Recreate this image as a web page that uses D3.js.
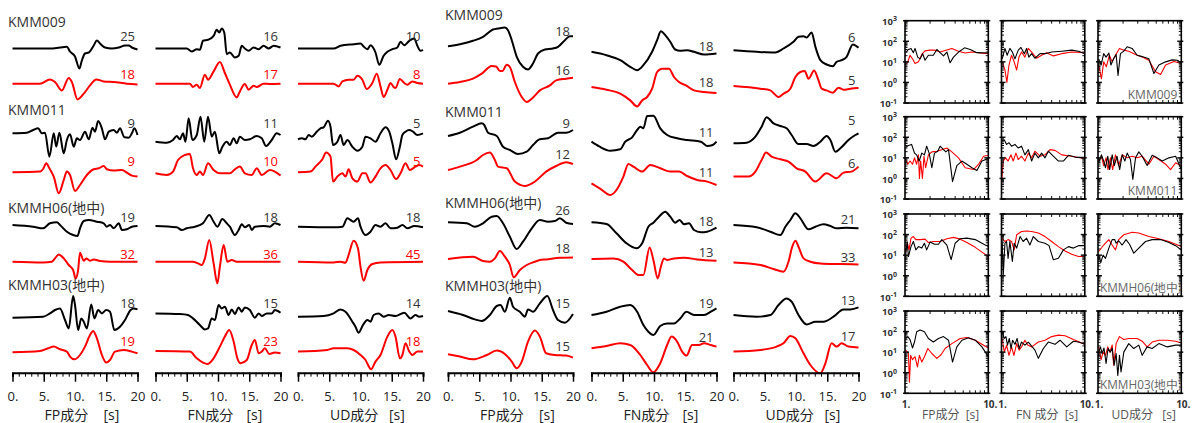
<!DOCTYPE html>
<html>
<head>
<meta charset="utf-8">
<script src="https://cdn.jsdelivr.net/npm/d3@7"></script>
<style>
  body { margin: 0; background: #fff; }
  text { font-family: "Open Sans", "Noto Sans CJK JP", sans-serif; }
</style>
</head>
<body>
<svg id="chart" width="1196" height="423"></svg>
<script>
// ---------- waveform data: [time (s), relative amplitude] ----------
// order in each station array: FP obs, FP syn, FN obs, FN syn, UD obs, UD syn
const velKMM009 = [
  [[0,0],[6,0],[7.6,1],[8.7,1.7],[9.2,-3],[10,-8],[10.7,-20],[11.1,-12],[11.6,-5],[12.2,-4],[13,3],[13.5,8],[14,5],[14.8,1],[15.9,0],[17,1],[18,3],[18.6,3],[19.1,1],[20,-1]],
  [[0,0],[4.4,0],[6,4.3],[6.8,1.7],[7.9,-6.7],[9,5.7],[9.5,1.7],[10.4,-15.7],[11.4,-10],[12.4,-1.7],[13.4,4.3],[14.6,2.3],[16.2,1.7],[18.3,0],[20,-0.7]],
  [[0,0],[5,0],[5.8,-3],[6.6,-0.7],[7.1,-1.3],[7.6,7.7],[8.4,8.7],[9.3,12.7],[9.8,18.7],[10.2,16],[10.6,20],[11,16],[11.4,-5.7],[11.9,-4],[12.7,-9],[13.3,-7.3],[13.8,2.7],[14.3,0],[14.9,-2.3],[15.7,1],[16.5,-0.7],[17.3,2.7],[18.1,0],[18.9,2.7],[20,1]],
  [[0,0],[5.5,0],[6,-3.3],[6.6,-1],[7.1,-4.3],[7.9,9],[8.4,4],[9.3,12.3],[10.3,21.7],[11.1,10.7],[11.9,-1],[13,-13.7],[13.5,-7.7],[14.3,-0.3],[14.9,-6],[15.7,-2],[16.2,-3.3],[17.3,0],[18.3,-0.3],[20,0]],
  [[0,0],[5.7,0],[6.8,2.7],[8.9,4.3],[10,5],[10.5,2],[11.1,-0.7],[11.6,3.3],[12.4,-4],[13,-16.3],[13.7,-7.3],[14.3,-3.3],[15.1,-0.7],[15.9,1],[16.4,6.7],[17,3.3],[17.8,7.7],[18.6,10],[19.1,2.7],[19.6,-2.3],[20,-1.3]],
  [[0,0],[5.7,0],[6.5,-2.7],[7.1,2.3],[8.1,4],[8.9,4],[9.5,8],[10.3,4],[11,-5.3],[11.9,0.7],[12.6,10],[13.2,-2.7],[13.7,-13.3],[14.3,-6],[14.8,0.7],[15.3,-3.3],[15.6,-4.3],[16.3,4.7],[17,0.7],[17.5,-1],[18.3,2.3],[19.1,0.7],[20,0]]
];
const velKMM011 = [
  [[0,1.7],[2.3,2.3],[3.3,5],[4.1,6.7],[4.7,1.7],[5.2,2.3],[5.9,-21.7],[6.6,1.7],[7,-11.7],[7.5,2.3],[8.2,-18.3],[8.7,-5],[9.2,0.7],[9.8,-11.7],[10.3,-3.3],[10.8,-5],[11.6,3.3],[12.2,-4.3],[12.8,7.3],[13.2,3.3],[13.7,14],[14.3,6.7],[14.8,-4.3],[15.4,3.3],[16.2,5],[16.7,2.3],[17.2,6.7],[17.9,-2.3],[18.6,-2.7],[19.1,1.7],[19.5,6.7],[20,0]],
  [[0,0],[4.4,0.7],[4.9,3.3],[5.4,9],[5.9,4],[6.6,-4.3],[7.4,-21],[8.2,-7.7],[8.7,0.7],[9.2,-2.7],[10,-18.7],[10.8,-12.7],[11.9,-2.7],[13,3],[13.8,4],[14.6,6.3],[15.1,3],[16.2,1.7],[17.5,2.3],[18.3,-0.3],[19.1,-3.3],[20,-4.3]],
  [[0,-6.7],[1.8,-7.7],[2.8,-5],[3.4,-1],[3.9,-4.3],[4.4,1.7],[4.8,-6.7],[5.3,16.7],[5.9,-5],[6.6,0],[7.2,18.3],[7.8,-6.7],[8.4,18.3],[9,-1.7],[9.5,3.3],[10.2,-18.3],[10.7,-11.7],[11.4,-6.7],[11.9,-10],[12.5,-3.3],[13,-8.3],[13.5,-1.7],[14.3,-5],[15.1,-4.3],[16.2,-1],[17,-3.3],[17.7,-11],[18.6,-5],[19.4,1.7],[20,0]],
  [[0,-1],[1.8,-2.7],[2.8,0.7],[3.6,12.3],[4.7,17.3],[5.5,18.3],[6,4],[6.6,-2.7],[7.1,0.7],[7.6,-2.7],[8.4,9],[9.3,2.3],[10.3,-1],[11.9,-1],[12.7,3],[13.5,5.7],[14.3,-1],[15.4,-2.7],[16.2,4],[17,-2.7],[18.3,2.3],[19.1,0.7],[20,-3.3]],
  [[0,-4.3],[0.6,-3.3],[1.2,-4.3],[1.7,0],[2.2,-1.7],[3,3.3],[3.6,6.7],[4.1,7.7],[4.8,14.3],[5.2,8.3],[5.6,-10],[6.3,-6.7],[6.8,0],[7.3,-10],[7.9,-5],[8.7,-11.7],[9.5,-15.7],[10.3,-11.7],[10.8,-1.7],[11.6,-3.3],[12.4,-6.7],[13.2,1.7],[14,7.7],[14.6,3.3],[15.1,-8.3],[15.7,-24.3],[16.3,-11.7],[16.7,0],[17.2,3.3],[17.8,5],[18.4,3.3],[19.1,0],[20,1.7]],
  [[0,0],[2,0.7],[2.8,5.7],[3.9,13],[4.5,19.7],[5.2,15.7],[5.6,-9.3],[6.3,-4.3],[7.1,-1],[7.6,-4.3],[8.1,3],[8.7,-6],[9.5,-9.3],[10.3,-1],[10.8,-1],[11.6,-10.3],[12.4,-4.3],[13.2,4],[14,7.3],[14.8,2.3],[15.7,-6.7],[16.4,-1],[17.2,9],[17.9,2.3],[18.8,5.7],[19.4,7.3],[20,5.7]]
];
const velKMMH06 = [
  [[0,1],[3.3,-0.7],[4.9,-2.3],[6,2.7],[7.1,3.7],[7.6,1],[8.7,-5.7],[9.7,-9],[10.4,-10],[10.8,-2.3],[11.4,5],[12.2,6],[13.5,4.3],[14.6,2.7],[15.1,-0.7],[15.6,1],[16.2,-2.3],[17,2.7],[17.5,-4],[18.3,-3.3],[19.1,-0.7],[20,0]],
  [[0,0],[4.9,-0.7],[6.3,0],[6.8,3.3],[7.4,7.3],[8.2,3.3],[9,-3.3],[9.7,-8.3],[10.1,-16.7],[10.5,-8.3],[10.8,9],[11.4,1],[11.8,3.3],[12.4,1],[13,2.3],[14,0.7],[15.6,0],[20,0]],
  [[0,0],[3.4,-1.3],[4.2,-4],[5,-2.3],[6.3,-0.7],[7.6,2.7],[8.6,11],[9.3,4.3],[9.9,-0.7],[10.7,7],[11.4,2.7],[11.9,-0.7],[12.7,-9],[13.3,-4],[13.8,1.7],[14.3,-1.3],[15,1],[15.4,-4],[15.9,-0.7],[17.3,0],[18.3,-0.7],[19.1,2.7],[20,1]],
  [[0,0],[6,0],[6.8,-1.7],[7.4,-3.3],[7.9,3.3],[8.6,21.7],[9.3,-1.7],[9.9,-21.7],[10.3,-5],[10.9,16.7],[11.5,0],[12.2,1.7],[13,0],[20,0]],
  [[0,-0.7],[5.7,-1.3],[7.1,-0.7],[7.9,7.7],[8.4,6],[8.9,4.3],[9.6,7.7],[10,-0.7],[10.8,-9],[11.6,-5.7],[12.4,1],[13.2,-0.7],[14,2.7],[14.8,-2.3],[15.9,-1.7],[16.7,1],[17.5,-2.3],[18.6,0],[20,-1.3]],
  [[0,0],[5.7,-0.7],[6.8,0],[7.6,-1],[8.1,6.7],[8.9,21],[9.6,13.3],[10,-5],[10.5,-19],[11.1,-8.3],[11.9,-2.3],[13.2,-0.7],[20,0]]
];
const velKMMH03 = [
  [[0,0],[4.9,1],[6,4.3],[6.8,7.7],[7.6,9.3],[8.4,-2.3],[9,-10.7],[9.7,21.7],[10,12.7],[10.5,-12.3],[11,-0.7],[11.4,-4],[11.9,-10.7],[12.6,13.3],[13.1,-0.7],[13.7,7.7],[14.3,4.3],[15,7.7],[15.6,6],[16.3,-12.3],[17.2,-9],[18,-2.3],[18.9,7.7],[19.4,9.3],[20,8.3]],
  [[0,0],[4.4,1.3],[5.7,4],[6.6,5.7],[7.6,3],[8.7,0.7],[9.2,-4.3],[9.9,-7],[10.8,-2.7],[11.6,5.7],[12.4,17.3],[12.9,21.3],[13.5,14],[14.3,-2.7],[15,-10.3],[15.6,-7.7],[16.4,0.7],[17.8,2.3],[19.1,0.7],[20,-1]],
  [[0,4.3],[3.9,3.7],[5.2,2.7],[6,-0.7],[7.1,-7.3],[7.9,-11.7],[8.4,-10.7],[9,-0.7],[9.5,-2.3],[10.1,12.7],[10.6,9.3],[11.1,11],[11.7,2.7],[12.2,8.3],[12.7,3.7],[13.3,10.3],[13.8,6],[14.3,10.3],[15.1,7.7],[15.9,0],[16.5,4.3],[17,1.7],[17.8,4.3],[18.6,4.3],[19.1,7.7],[20,5]],
  [[0,1.3],[5.5,0.7],[6.6,-6],[7.6,-10.3],[8.3,-11.7],[9.3,-6],[10.3,5.7],[11.1,15.7],[11.8,22.3],[12.5,10.7],[13.1,-6],[13.6,-11],[14.6,-7.7],[15.4,7.3],[15.9,12.3],[16.5,-1],[17,0.7],[17.5,4],[18.2,-1.7],[19.1,-0.3],[20,-1]],
  [[0,1],[4.1,1.7],[5.7,4.3],[6.8,8.3],[7.6,6],[8.7,-4],[9.2,-9],[9.7,-15],[10.4,-7.3],[11.1,-2.3],[11.6,-4],[12.1,2.7],[12.9,4.3],[13.7,1],[14.5,2.7],[15.6,1.7],[17,5],[18,-0.7],[18.8,2.7],[19.4,1],[20,1.7]],
  [[0,0.7],[4.7,2.3],[5.7,4],[7.9,4],[8.9,2.3],[10,-2.7],[10.8,-7.7],[11.7,-17],[12.4,-9.3],[13.2,-2.7],[14.3,15.7],[15.1,22.3],[15.6,15.7],[16.3,-6],[16.7,-2.7],[17.2,9],[17.8,0.7],[18.3,-2.7],[19.1,0.7],[20,0.7]]
];
const dispKMM009 = [
  [[0,2.3],[1.9,4.3],[4,7.7],[5.6,11.7],[7.2,19],[8,20],[9.1,21],[9.6,18.3],[10.2,8.3],[11,-8.3],[12,-18.3],[12.8,-21],[13.6,-15],[14.4,-5],[15.5,-1],[16.8,0],[17.6,1.7],[18.7,8.3],[19.5,12.3],[20,12.3]],
  [[0,0],[1.9,1.7],[4,5],[5.4,10],[7,17.7],[7.7,17.3],[8.3,12.7],[8.7,12.7],[9.4,19],[9.9,16.7],[10.7,1.7],[11.8,-13.3],[12.6,-18.3],[13.4,-15],[14.7,-6.7],[16.3,-1.7],[17.3,3.3],[18.9,5],[20,6]],
  [[0,-3.3],[2.4,-6.7],[4.6,-11.7],[6.2,-18.3],[7.3,-21.7],[8.3,-16.7],[9.7,-3.3],[10.5,8.3],[11.1,17.3],[11.8,13.3],[12.6,6.7],[13.4,-1],[14.2,-2.3],[15.3,-1.7],[16.4,-3.3],[18,-6],[20,-5]],
  [[0,-3.3],[2.4,-6],[4.6,-10],[6.2,-16.7],[7.3,-22.7],[8.1,-16.7],[8.9,-13.3],[9.7,-5],[10.5,11.7],[11.3,15],[12.4,15],[13.2,6.7],[14,1.7],[15.1,-1.7],[16.4,-6.7],[18,-8.3],[20,-9.3]],
  [[0,-1.7],[3.7,-3.3],[6.7,-4],[8,0],[9.6,6.7],[10.4,11.7],[11.2,12.3],[11.7,11],[12.5,16],[13.1,1.7],[13.9,-11.7],[14.9,-16],[15.9,-17.7],[16.5,-13.3],[17.3,-11.7],[18.1,-8.3],[19.1,4],[20,0.7]],
  [[0,-2.3],[4.3,-5],[5.9,-6.7],[7.2,-13.3],[8,-10],[9.1,-5],[9.9,6.7],[10.7,11.7],[11.4,12.7],[12,5],[12.9,13.3],[13.6,3.3],[14.1,-5],[14.9,-6.7],[15.9,-9],[16.8,-4],[17.6,-6],[18.7,-5],[20,-4.3]]
];
const dispKMM011 = [
  [[0,-1],[1.9,2.3],[4,8.3],[5.4,11.7],[5.8,10],[6.4,2.3],[7.8,-1],[8.8,-11.7],[9.9,-15],[11.2,-19],[12.6,-16.7],[13.6,-10],[14.7,-4.3],[16,-3.3],[17.6,2.3],[18.9,2.3],[20,5]],
  [[0,2.3],[1.9,5.7],[4.6,12.3],[5.6,17.3],[6.7,19.7],[7.5,12.3],[8,5.7],[9.4,4],[10.7,-9.3],[12.3,-13.7],[13.9,-9.3],[15.7,0.7],[17.3,6.3],[18.9,10],[20,8.3]],
  [[0,-6.7],[1.3,-11.7],[3,-15.7],[4.6,-14.3],[5.4,-6.7],[6.5,-2.3],[7.3,5],[7.8,8.3],[8.3,6.7],[8.9,19],[9.9,19.3],[11,6.7],[12.1,0],[13.7,-3.3],[15.3,-5],[17.5,-6.7],[18.5,-11],[19.4,-10],[20,-6.7]],
  [[0,-11],[1.3,-16],[3,-22.7],[4,-17.7],[5.1,-4.3],[5.9,8.3],[6.7,5.7],[8.1,0.7],[9.4,7.3],[11,4],[12.6,0.7],[14,0.7],[15.3,-3.7],[16.9,-7.7],[18.5,-9.3],[20,-12.7]],
  [[0,-8.3],[2.1,-7.7],[3.5,-1.7],[4.5,8.3],[5.3,17.7],[6.4,11.7],[7.5,9],[8.5,6.7],[9.3,0],[10.4,-9],[11.7,-9],[12.8,-11],[13.9,-6.7],[14.9,-1],[15.5,-5],[16.3,-16.7],[17.1,-13.3],[18.4,-5],[19.5,0],[20,1.7]],
  [[0,-4.3],[2.4,-4.3],[3.5,0.7],[4.5,12.3],[5.2,19.7],[6.1,15.7],[7.5,13],[8.8,10.7],[10.1,4],[11.5,0.7],[13.1,-9.3],[14.9,-1],[16.5,-6],[17.6,-0.3],[18.9,0.7],[20,5.7]]
];
const dispKMMH06 = [
  [[0,3.7],[3,2.7],[4.3,-0.7],[5.6,2.7],[7,9.3],[7.8,10],[8.8,2.7],[9.9,-10.7],[11,-23],[12,-15.7],[13.4,-2.3],[14.7,6],[16,4.3],[17.1,5],[17.9,7.7],[18.9,3.3],[20,2]],
  [[0,2.7],[4,5],[5.6,0.7],[6.7,0],[7.5,3.3],[8.3,10.7],[9.1,5],[9.9,-3.3],[10.5,-15.7],[11.5,-8.3],[12.6,-3.3],[13.9,0],[14.7,1.7],[15.7,2.3],[17.9,4],[20,4.3]],
  [[0,3.7],[2.4,2],[4,-7.3],[5.6,-17.3],[7.2,-22.3],[8.1,-17.3],[9.1,-0.7],[9.9,3.3],[10.8,9.3],[11.8,14.3],[12.6,9.3],[13.4,3.3],[14.1,6],[14.8,1.7],[15.6,2.7],[16.4,-4],[17.5,-6.3],[18.5,-5.7],[20,-1.7]],
  [[0,2.7],[3.5,3.3],[5.1,0],[6.5,-8.3],[7.5,-13.3],[8.3,-13.3],[9.3,14.3],[9.9,1.7],[10.6,-16.7],[11.1,-5],[11.6,3.3],[12.1,1.7],[13.2,3.3],[14.8,4],[16.9,2.3],[20,1]],
  [[0,1],[3.7,-1.3],[5.9,-5.7],[7.5,-9],[8.3,-0.7],[9.1,6],[9.9,12.7],[10.7,7.7],[12,-3.3],[13.1,-0.7],[14.4,1.7],[15.5,0],[16.5,-2.3],[18.1,-1.7],[20,-2.3]],
  [[0,-0.7],[4.3,-3.3],[6.4,-7.3],[8,-10],[8.8,0],[9.4,15],[9.9,21],[10.4,15],[11.2,3.3],[12.3,0],[13.9,-1.7],[17.1,-2.3],[20,-2.7]]
];
const dispKMMH03 = [
  [[0,6.7],[2.4,2.7],[4.3,-1.7],[5.4,-3.3],[6.7,2.7],[7.8,11.7],[8.4,12.7],[9.1,6],[9.9,20],[10.4,11],[11.5,6],[12.3,1],[12.8,8.3],[13.6,6],[14.7,14.3],[15.9,21.7],[16.8,7.7],[17.6,-2.3],[18.7,-5],[20,3.7]],
  [[0,-2],[1.9,-4.3],[4,-7],[6.2,-2.7],[7.8,1.7],[9.1,-1.7],[10.2,-9.3],[11,-16],[11.8,-9.3],[12.8,10.7],[13.9,21.7],[14.7,15.7],[15.7,-1],[17.1,-2.7],[18.9,-3.3],[20,-5.3]],
  [[0,2.7],[2.4,6],[4.6,11],[6.2,12.7],[7.3,6],[8.3,-7.3],[9.1,-14],[9.9,-17.3],[11,-8.3],[12.1,-5.7],[13.2,-5.7],[14.2,-0.7],[15.2,6],[16.4,2.7],[18,2.7],[19.1,6],[20,9.3]],
  [[0,4],[2.4,6.3],[4.6,9],[6.2,7.3],[7.8,-2.7],[8.9,-12.7],[9.9,-20],[11,-11],[12.1,7.3],[12.8,15.7],[13.7,10.7],[14.5,0.7],[15.2,-3.3],[16.1,7.3],[17.2,7.3],[18,9],[19.1,7.3],[20,5.7]],
  [[0,2.7],[3.7,1],[5.9,2.7],[7.2,12.7],[8.5,19.3],[9.3,16],[10.4,2.7],[11.7,-6.7],[13.1,-4],[14.4,-4],[16,1],[17.6,8.3],[18.7,8.3],[20,10.3]],
  [[0,0.7],[4.3,2.3],[6.9,5.7],[8,9],[9.1,16.3],[9.9,14],[11.2,-1],[12.3,-12.7],[13.9,-21],[14.7,-11],[15.7,9],[16.5,5.7],[17.3,9],[18.4,5.7],[20,4.7]]
];

// peak values printed beside each trace (obs, syn per component)
const peakVel  = [[25,18,16,17,10,8],[9,9,11,10,5,5],[19,32,18,36,18,45],[18,19,15,23,14,18]];
const peakDisp = [[18,16,18,18,6,5],[9,12,11,11,5,6],[26,18,18,13,21,33],[15,15,19,21,13,17]];

// ---------- Fourier spectra: [period (s), amplitude] ----------
const specKMM009 = [
  [[1.02,28],[1.10,40],[1.18,45],[1.26,28],[1.32,45],[1.42,17],[1.52,14],[1.63,25],[1.74,12],[1.91,21],[2.19,21],[2.41,40],[2.64,28],[2.90,19.5],[3.18,30],[3.48,9],[3.82,17],[4.39,30],[5.19,48],[6.07,40],[7.30,28],[10,27]],
  [[1.0,7],[1.08,10],[1.15,21],[1.23,14],[1.32,8.3],[1.45,10],[1.59,23],[1.74,34],[2.0,37],[2.30,37],[2.64,30],[3.03,36],[3.65,45],[4.39,33],[5.28,27],[6.36,30],[8.01,27],[10,25]],
  [[1.02,14],[1.10,45],[1.17,21],[1.26,45],[1.35,30],[1.45,14],[1.59,37],[1.71,50],[1.88,25],[2.0,45],[2.13,17],[2.30,25],[2.52,15],[2.90,25],[3.33,25],[4.0,30],[5.28,33],[6.97,37],[8.39,33],[10,25]],
  [[1.02,10],[1.10,4],[1.16,1.0],[1.23,7],[1.32,21],[1.42,10],[1.52,4],[1.62,17],[1.74,30],[1.91,17],[2.10,45],[2.30,30],[2.64,15],[3.03,21],[3.48,28],[4.19,19.5],[5.28,25],[6.97,30],[10,28]],
  [[1.02,14],[1.09,7],[1.17,25],[1.25,17],[1.35,27],[1.43,7],[1.54,14],[1.65,23],[1.74,2.2],[1.86,25],[2.04,33],[2.24,54],[2.57,45],[2.95,21],[3.39,18],[4.08,14],[4.69,2.7],[5.38,7],[6.48,10],[7.79,12.5],[8.95,12],[10,9]],
  [[1.02,7],[1.10,1.5],[1.17,10],[1.26,5.8],[1.37,21],[1.48,10],[1.62,21],[1.81,45],[2.04,37],[2.34,33],[2.82,23],[3.39,17],[4.08,12],[4.91,3.3],[5.64,2.4],[6.48,7],[8.16,10.5],[10,8.3]]
];
const specKMM011 = [
  [[1.02,33],[1.10,40],[1.20,45],[1.30,17],[1.38,14],[1.48,7],[1.59,17],[1.71,14],[1.82,37],[1.95,17],[2.10,3.3],[2.26,17],[2.47,21],[2.64,37],[2.90,25],[3.09,19.5],[3.33,25],[3.72,0.7],[4.19,4.2],[4.82,7],[5.53,4.9],[6.36,3.3],[7.30,2.4],[8.39,7],[10,9.3]],
  [[1.02,8.3],[1.08,4.9],[1.15,7],[1.23,4.9],[1.30,10],[1.38,4.9],[1.45,14],[1.49,1.0],[1.54,7],[1.62,1.0],[1.69,12],[1.77,3.3],[1.91,14],[2.10,19.5],[2.41,21],[2.77,25],[3.18,30],[3.65,19.5],[4.39,10],[5.28,3.3],[6.66,2.7],[7.65,4.9],[8.79,12],[10,13.3]],
  [[1.02,65],[1.08,75],[1.15,45],[1.23,54],[1.32,37],[1.45,45],[1.59,30],[1.74,37],[1.91,14],[2.10,25],[2.30,7],[2.52,17],[2.77,10],[3.03,17],[3.33,10],[3.65,21],[4.19,12],[4.82,7],[5.53,7],[6.36,13.3],[8.01,10.5],[10,10.5]],
  [[1.01,1.0],[1.05,7],[1.12,10],[1.20,7],[1.30,14],[1.38,7],[1.49,17],[1.59,8.3],[1.74,12],[1.91,7],[2.10,17],[2.30,10],[2.52,21],[2.90,12],[3.33,14],[3.82,25],[4.39,23],[5.28,14],[6.97,12],[10,9]],
  [[1.02,5.8],[1.10,14],[1.17,7],[1.23,3.3],[1.31,12],[1.38,2.7],[1.48,14],[1.57,4.2],[1.69,12],[1.82,2.7],[1.95,14],[2.10,7],[2.24,17],[2.45,8.3],[2.62,0.9],[2.82,10],[3.09,19.5],[3.39,12],[3.89,4.2],[4.47,13.3],[5.14,10],[5.90,7],[7.10,10],[8.55,12],[10,2.7]],
  [[1.02,7],[1.10,12],[1.17,4.2],[1.25,10],[1.32,2.7],[1.41,10],[1.50,2.7],[1.62,14],[1.77,4.2],[1.95,14],[2.24,10],[2.57,12],[2.95,10],[3.39,12],[4.08,4.9],[4.69,12],[5.38,8.3],[6.48,4.9],[7.44,2.7],[8.55,5.8],[10,4.0]]
];
const specKMMH06 = [
  [[1.02,10],[1.06,46],[1.10,8.6],[1.18,26],[1.26,46],[1.35,18],[1.45,26],[1.59,22],[1.71,38],[1.82,18],[2.0,43],[2.26,34],[2.52,34],[2.77,57],[3.18,31],[3.58,6],[4.0,38],[4.60,63],[5.53,67],[6.97,57],[8.39,38],[10,26]],
  [[1.02,15],[1.07,38],[1.12,18],[1.18,67],[1.26,80],[1.35,57],[1.52,57],[1.74,60],[1.91,41],[2.19,46],[2.64,46],[3.18,63],[3.82,73],[4.60,60],[5.53,41],[6.97,24],[8.39,14],[10,8.6]],
  [[1.02,46],[1.05,1.1],[1.10,38],[1.15,46],[1.20,7],[1.26,46],[1.35,5],[1.42,38],[1.52,22],[1.67,80],[1.82,46],[2.0,67],[2.19,31],[2.41,80],[2.77,46],[3.33,38],[3.72,29],[4.19,6],[4.82,7],[5.53,18],[6.36,26],[7.30,22],[8.39,29],[10,29]],
  [[1.02,67],[1.10,46],[1.20,57],[1.32,46],[1.42,18],[1.52,98],[1.74,140],[2.0,150],[2.30,140],[2.77,120],[3.33,80],[4.0,46],[4.82,26],[5.80,16],[6.97,11],[8.39,8.6],[10,8.6]],
  [[1.02,10],[1.08,4.3],[1.15,10],[1.23,7],[1.35,22],[1.48,57],[1.59,57],[1.65,38],[1.77,50],[1.95,31],[2.17,57],[2.39,34],[2.69,12.5],[3.09,22],[3.72,46],[4.47,57],[5.64,57],[7.10,41],[8.55,29],[10,18]],
  [[1.02,15],[1.17,31],[1.35,57],[1.48,31],[1.62,18],[1.77,57],[2.04,98],[2.57,130],[3.09,120],[4.08,80],[5.38,63],[7.10,46],[8.55,34],[10,26]]
];
const specKMMH03 = [
  [[1.02,46],[1.08,57],[1.15,41],[1.23,16],[1.30,31],[1.38,98],[1.52,120],[1.71,98],[1.91,46],[2.19,31],[2.52,46],[2.90,57],[3.33,38],[3.72,3.3],[4.19,18],[4.82,38],[5.80,50],[6.97,38],[8.39,18],[10,6]],
  [[1.02,12.5],[1.07,10],[1.10,8.6],[1.13,0.35],[1.17,7],[1.23,4.3],[1.32,6],[1.41,1.9],[1.49,7],[1.59,3.3],[1.71,6],[1.88,15],[2.10,8.6],[2.41,5],[2.71,7.5],[3.03,15],[3.65,26],[4.60,46],[5.53,52],[6.97,38],[8.39,24],[10,16]],
  [[1.02,98],[1.08,46],[1.13,57],[1.18,22],[1.24,46],[1.30,15],[1.36,38],[1.45,24],[1.54,46],[1.63,15],[1.74,31],[1.91,22],[2.10,31],[2.52,12.5],[2.77,5],[3.18,15],[3.65,31],[4.39,24],[5.04,38],[6.07,18],[7.30,34],[8.39,31],[10,24]],
  [[1.02,46],[1.08,10],[1.15,22],[1.23,7],[1.32,18],[1.41,7],[1.52,26],[1.63,12.5],[1.74,18],[1.91,38],[2.06,22],[2.30,18],[2.77,31],[3.33,38],[4.0,57],[4.82,67],[5.80,63],[7.30,41],[10,24]],
  [[1.02,10],[1.07,18],[1.12,8.6],[1.18,16],[1.25,2.8],[1.32,15],[1.41,10],[1.48,16],[1.56,2.3],[1.65,8.6],[1.73,0.73],[1.81,7],[1.89,1.1],[2.04,10],[2.34,26],[2.69,15],[3.09,22],[3.39,7],[3.89,18],[4.47,15],[5.38,26],[6.78,18],[8.55,22],[10,22]],
  [[1.02,18],[1.09,4.3],[1.15,10],[1.23,7],[1.31,18],[1.38,10],[1.48,22],[1.54,2.3],[1.65,26],[1.81,57],[2.04,41],[2.34,46],[2.95,46],[3.39,34],[3.89,18],[4.47,31],[5.38,38],[6.78,38],[8.55,34],[10,28]]
];

const stations = ["KMM009", "KMM011", "KMMH06(地中)", "KMMH03(地中)"];
const components = ["FP", "FN", "UD"];
const timeTicks = [0, 5, 10, 15, 20];
const timeTickLabels = ["0.", "5.", "10.", "15.", "20"];
const specYTicks = [1000, 100, 10, 1, 0.1];
const specYExp = ["3", "2", "1", "0", "-1"];

// ---------- layout ----------
const svg = d3.select("#chart");
const W = 125;                               // width of a waveform panel
const rowBase = [[48.5, 83.7], [135, 172.3], [226, 261.7], [317.7, 352.3]];
const axisY = 372.7;
const obsColor = "#000", synColor = "#ff0000", textColor = "#333";

const waveGroups = [
  {
    rows: [velKMM009, velKMM011, velKMMH06, velKMMH03], peaks: peakVel,
    cols: [12.5, 155.5, 298], stationX: 8, stationY: [27, 115, 213, 290],
    labelY: [[[36,74],[36,74],[36,74]], [[123,161],[123,161],[123,161]], [[217,254],[217,254],[217,254]], [[303,341],[303,341],[303,341]]],
    redLabels: true, labelInset: 2.5
  },
  {
    rows: [dispKMM009, dispKMM011, dispKMMH06, dispKMMH03], peaks: peakDisp,
    cols: [448, 591.5, 733.5], stationX: 445, stationY: [20, 117, 208, 291],
    labelY: [[[31,70],[46,82],[37,80]], [[123,154],[132,172],[120,163]], [[210,248],[221,252],[219,257]], [[303,346],[303,337],[300,336]]],
    redLabels: false, labelInset: 3
  }
];

const waveLine = d3.line().curve(d3.curveMonotoneX);

waveGroups.forEach(g => {
  const gg = svg.append("g");
  g.rows.forEach((traces, r) => {
    gg.append("text").attr("x", g.stationX).attr("y", g.stationY[r])
      .attr("font-size", 14).attr("fill", textColor).text(stations[r]);
    components.forEach((comp, c) => {
      const x = d3.scaleLinear().domain([0, 20]).range([g.cols[c], g.cols[c] + W]);
      [0, 1].forEach(k => {
        const base = rowBase[r][k];
        const y = d3.scaleLinear().domain([-30, 30]).range([base + 30, base - 30]);
        const data = traces[c * 2 + k];
        gg.append("path")
          .attr("d", waveLine.x(d => x(d[0])).y(d => y(d[1]))(data))
          .attr("fill", "none")
          .attr("stroke", k === 0 ? obsColor : synColor)
          .attr("stroke-width", 2)
          .attr("stroke-linejoin", "round");
        gg.append("text")
          .attr("x", g.cols[c] + W - g.labelInset)
          .attr("y", g.labelY[r][c][k])
          .attr("dy", "0.35em")
          .attr("text-anchor", "end")
          .attr("font-size", 13)
          .attr("fill", (k === 1 && g.redLabels) ? synColor : textColor)
          .text(g.peaks[r][c * 2 + k]);
      });
    });
  });

  // time axes under the bottom row
  components.forEach((comp, c) => {
    const x = d3.scaleLinear().domain([0, 20]).range([g.cols[c], g.cols[c] + W]);
    const minor = gg.append("g").attr("transform", `translate(0,${axisY})`)
      .call(d3.axisBottom(x).tickValues(d3.range(0, 21, 1)).tickSize(4).tickFormat(""));
    minor.selectAll(".tick text").remove();
    minor.select(".domain").attr("stroke-width", 2).attr("stroke", "#000");
    minor.selectAll(".tick line").attr("stroke", "#000").attr("stroke-width", 1);
    const major = gg.append("g").attr("transform", `translate(0,${axisY})`)
      .call(d3.axisBottom(x).tickValues(timeTicks).tickSize(9).tickPadding(10)
        .tickFormat((d, i) => timeTickLabels[i]));
    major.select(".domain").remove();
    major.selectAll(".tick line").attr("stroke", "#000").attr("stroke-width", 1.5);
    major.selectAll(".tick text").attr("font-size", 13).attr("fill", "#222")
      .attr("font-family", "'Open Sans', sans-serif");
    gg.append("text").attr("x", g.cols[c] + 32).attr("y", 420)
      .attr("font-size", 14).attr("fill", "#222").text(comp + "成分");
    gg.append("text").attr("x", g.cols[c] + 91).attr("y", 420)
      .attr("font-size", 14).attr("fill", "#222").text("[s]");
  });
});

// ---------- spectra ----------
const specRows = [specKMM009, specKMM011, specKMMH06, specKMMH03];
const sCols = [905, 1001.5, 1098];
const sRows = [20.7, 116.7, 214, 311];
const sW = 83.3, sH = 82.3;
const specTitles = ["FP成分  [s]", "FN 成分  [s]", "UD成分   [s]"];
const defs = svg.append("defs");
const specLine = d3.line();

specRows.forEach((spec, r) => {
  components.forEach((comp, c) => {
    const x0 = sCols[c], y0 = sRows[r];
    const x = d3.scaleLog().domain([1, 10]).range([x0, x0 + sW]);
    const y = d3.scaleLog().domain([0.1, 1000]).range([y0 + sH, y0]);
    const id = `clip-${r}-${c}`;
    defs.append("clipPath").attr("id", id)
      .append("rect").attr("x", x0).attr("y", y0).attr("width", sW).attr("height", sH);
    const p = svg.append("g");
    const body = p.append("g").attr("clip-path", `url(#${id})`);
    [1, 0].forEach(k => {
      body.append("path")
        .attr("d", specLine.x(d => x(d[0])).y(d => y(d[1]))(spec[c * 2 + k]))
        .attr("fill", "none")
        .attr("stroke", k === 0 ? obsColor : synColor)
        .attr("stroke-width", 1.1)
        .attr("stroke-linejoin", "round");
    });

    // frame with inward log ticks on all sides
    const xTicks = d3.range(2, 10);
    const yMinor = [];
    [0.1, 1, 10, 100].forEach(dec => d3.range(2, 10).forEach(m => yMinor.push(dec * m)));
    const t = p.append("g").attr("stroke", "#111");
    xTicks.forEach(v => {
      t.append("line").attr("x1", x(v)).attr("x2", x(v)).attr("y1", y0).attr("y2", y0 + 3);
      t.append("line").attr("x1", x(v)).attr("x2", x(v)).attr("y1", y0 + sH).attr("y2", y0 + sH - 3);
    });
    yMinor.forEach(v => {
      t.append("line").attr("x1", x0).attr("x2", x0 + 2.5).attr("y1", y(v)).attr("y2", y(v));
      t.append("line").attr("x1", x0 + sW).attr("x2", x0 + sW - 2.5).attr("y1", y(v)).attr("y2", y(v));
    });
    specYTicks.forEach(v => {
      t.append("line").attr("x1", x0 - 2).attr("x2", x0 + 4).attr("y1", y(v)).attr("y2", y(v)).attr("stroke-width", 1.5);
      t.append("line").attr("x1", x0 + sW + 2).attr("x2", x0 + sW - 4).attr("y1", y(v)).attr("y2", y(v)).attr("stroke-width", 1.5);
    });
    p.append("rect").attr("x", x0).attr("y", y0).attr("width", sW).attr("height", sH)
      .attr("fill", "none").attr("stroke", "#000").attr("stroke-width", 1.6);

    if (c === 0) {
      specYTicks.forEach((v, i) => {
        const tx = p.append("text").attr("x", 897).attr("y", y(v)).attr("dy", "0.45em")
          .attr("text-anchor", "end").attr("font-size", 9.5).attr("font-weight", "bold")
          .attr("fill", "#333");
        tx.append("tspan").text("10");
        tx.append("tspan").attr("dy", "-0.5em").attr("font-size", 7).text(specYExp[i]);
      });
    }
    if (c === 2) {
      const lbl = p.append("text").attr("x", x0 + sW - 4).attr("y", y0 + sH - 4)
        .attr("text-anchor", "end").attr("font-size", 12).attr("fill", "#666").text(stations[r]);
      const len = lbl.node().getComputedTextLength();
      if (len > sW - 6) {
        // long names are shrunk to span the panel width
        const fs = 12 * (sW - 2) / len;
        lbl.attr("text-anchor", "start").attr("x", x0 + 2).attr("font-size", fs);
      }
    }
    if (r === 3) {
      p.append("text").attr("x", x(1) + 1).attr("y", 408).attr("text-anchor", "middle")
        .attr("font-size", 10).attr("font-weight", "bold").attr("fill", "#333").text("1.");
      p.append("text").attr("x", x(10) + 2).attr("y", 408).attr("text-anchor", "middle")
        .attr("font-size", 10).attr("font-weight", "bold").attr("fill", "#333").text("10.");
      p.append("text").attr("x", x0 + sW / 2 + 4).attr("y", 419).attr("text-anchor", "middle")
        .attr("font-size", 12).attr("fill", "#555").attr("xml:space", "preserve")
        .style("white-space", "pre").text(specTitles[c]);
    }
  });
});
</script>
</body>
</html>
